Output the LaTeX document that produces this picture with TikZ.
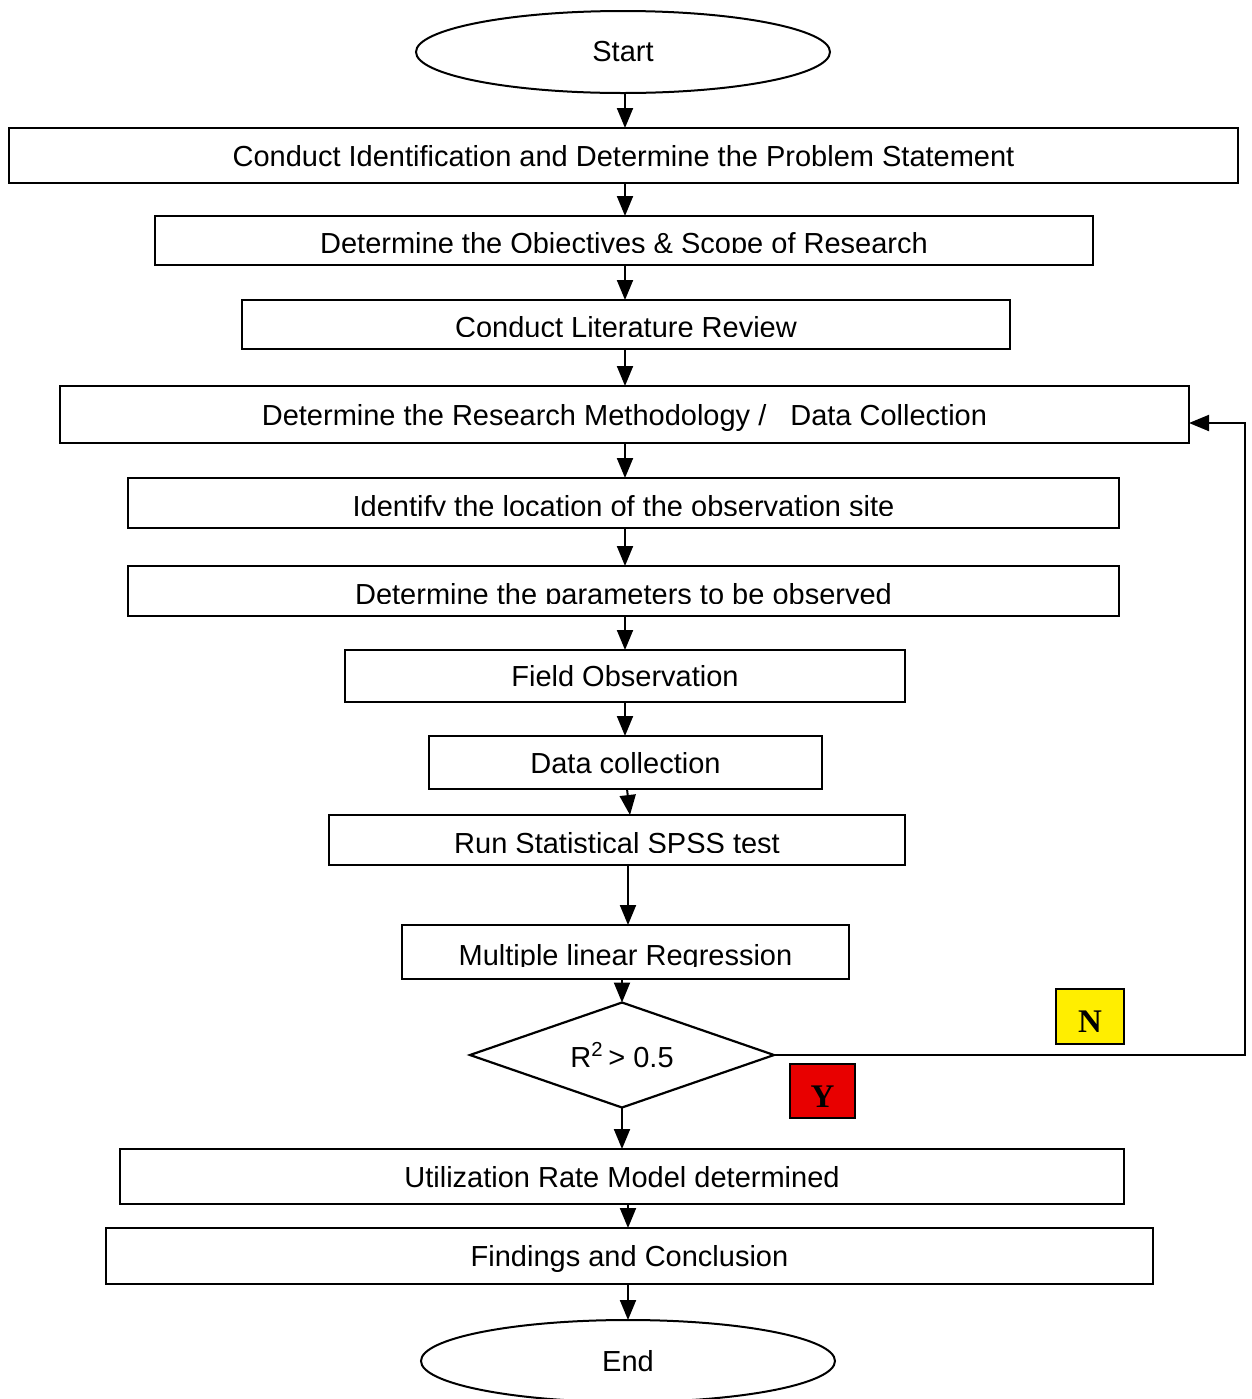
\documentclass[tikz,border=0pt]{standalone}
\usepackage{fontspec}
\setmainfont{Liberation Sans}
\newfontfamily\yesnofont{Liberation Serif}
\usepackage{xcolor}
\usepackage{tikz}
\usetikzlibrary{shapes.geometric,arrows.meta,calc}
\definecolor{noyellow}{HTML}{FFEE00}
\definecolor{yesred}{HTML}{E80000}

\begin{document}
\begin{tikzpicture}[x=0.5pt,y=-0.5pt]
\tikzstyle{every node}+=[inner sep=0pt, outer sep=0pt, font=\fontsize{14.5}{16}\selectfont]
\tikzstyle{box}=[draw, line width=1.3pt, text height=10.5pt, text depth=0pt]
\tikzstyle{cutbox}=[box, text height=13pt]
\tikzstyle{terminal}=[ellipse, draw, line width=1pt, minimum width=207pt, minimum height=41pt]
\tikzstyle{answer}=[draw, line width=0.8pt, text height=16pt, text depth=0pt, font=\yesnofont\bfseries\fontsize{16.5}{18}\selectfont]
\tikzstyle{flow}=[line width=1pt, -{Triangle[length=10pt,width=8pt]}]
\useasboundingbox (0,0) rectangle (1252,1399);

% boxes
\node[terminal] (start) at (623,52) {Start};
\node[box, minimum width=614.5pt, minimum height=27.5pt] (b1) at (623.5,155.5) {Conduct Identification and Determine the Problem Statement};
\node[cutbox, minimum width=469pt, minimum height=24.5pt] (b2) at (624,240.5) {Determine the Objectives \& Scope of Research};
\node[cutbox, minimum width=384pt, minimum height=24.5pt] (b3) at (626,324.5) {Conduct Literature Review};
\node[box, minimum width=564.5pt, minimum height=28.5pt] (b4) at (624.5,414.5) {Determine the Research Methodology /\hspace{8pt} Data Collection};
\node[cutbox, minimum width=495.5pt, minimum height=25pt] (b5) at (623.5,503) {Identify the location of the observation site};
\node[cutbox, minimum width=495.5pt, minimum height=25pt] (b6) at (623.5,591) {Determine the parameters to be observed};
\node[box, minimum width=280pt, minimum height=26pt] (b7) at (625,676) {Field Observation};
\node[box, minimum width=196.5pt, minimum height=26.5pt] (b8) at (625.5,762.5) {Data collection};
\node[cutbox, minimum width=288pt, minimum height=25pt] (b9) at (617,840) {Run Statistical SPSS test};
\node[cutbox, minimum width=223.5pt, minimum height=27pt] (b10) at (625.5,952) {Multiple linear Regression};
\node[diamond, draw, line width=1.1pt, aspect=2.9, minimum width=152pt, minimum height=52.5pt] (test) at (622,1055) {R\textsuperscript{2}\,> 0.5};
\node[answer, fill=noyellow, minimum width=34pt, minimum height=27.5pt] (no) at (1090,1016.5) {N};
\node[answer, fill=yesred, minimum width=32.5pt, minimum height=27pt] (yes) at (822.5,1091) {Y};
\node[box, minimum width=502pt, minimum height=27.5pt] (b11) at (622,1176.5) {Utilization Rate Model determined};
\node[box, minimum width=523.5pt, minimum height=28pt] (b12) at (629.5,1256) {Findings and Conclusion};
\node[terminal] (end) at (628,1361) {End};

% text cut at the bottom of some boxes
\foreach \b in {b2,b3,b5,b6,b9,b10}
  \fill[white] ([shift={(0.7pt,0.7pt)}]\b.south west) rectangle ([shift={(-0.7pt,6pt)}]\b.south east);

% arrows
\draw[flow] ($(start.south)+(2,0)$) -- ($(b1.north)+(1.5,0)$);
\draw[flow] ($(b1.south)+(1.5,0)$) -- ($(b2.north)+(1,0)$);
\draw[flow] ($(b2.south)+(1,0)$) -- ($(b3.north)+(-1,0)$);
\draw[flow] ($(b3.south)+(-1,0)$) -- ($(b4.north)+(0.5,0)$);
\draw[flow] ($(b4.south)+(0.5,0)$) -- ($(b5.north)+(1.5,0)$);
\draw[flow] ($(b5.south)+(1.5,0)$) -- ($(b6.north)+(1.5,0)$);
\draw[flow] ($(b6.south)+(1.5,0)$) -- (b7.north);
\draw[flow] (b7.south) -- ($(b8.north)+(-0.5,0)$);
\draw[flow] ($(b8.south)+(1.5,0)$) -- ($(b9.north)+(13,0)$);
\draw[flow] ($(b9.south)+(11,0)$) -- ($(b10.north)+(2.5,0)$);
\draw[flow] ($(b10.south)+(-3.5,0)$) -- (test.north);
\draw[flow] (test.south) -- (b11.north);
\draw[flow] ($(b11.south)+(6,0)$) -- ($(b12.north)+(-1.5,0)$);
\draw[flow] ($(b12.south)+(-1.5,0)$) -- (end.north);

% back to methodology
\coordinate (turn) at (1245,1055);
\draw[flow] (test.east) -- (turn) |- ($(b4.east)+(0,8.5)$);
\end{tikzpicture}
\end{document}
